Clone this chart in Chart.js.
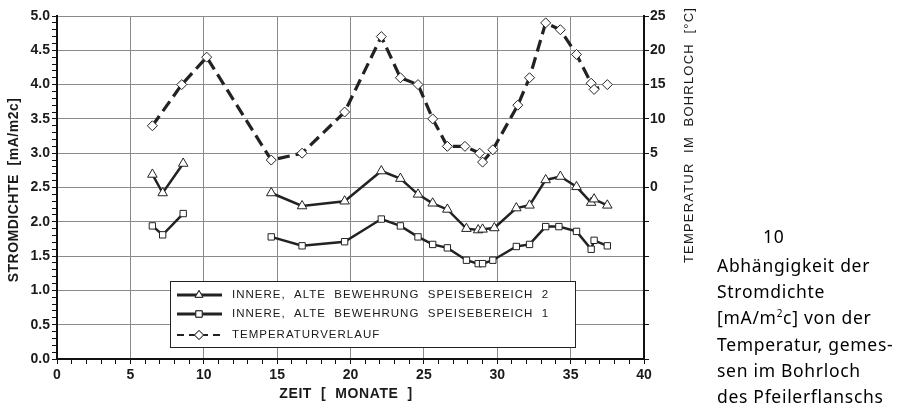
<!DOCTYPE html>
<html>
<head>
<meta charset="utf-8">
<script src="https://cdn.jsdelivr.net/npm/chart.js@4"></script>
<style>
  body { margin: 0; background: #fff; }
  #wrap { position: relative; width: 897px; height: 408px; overflow: hidden; }
  #caption { position: absolute; left: 717px; top: 223px; font-family: "Noto Sans", sans-serif;
             font-size: 17.5px; line-height: 26.3px; letter-spacing: 0.7px; color: #000; white-space: nowrap; }
  #caption .num { padding-left: 46px; margin-bottom: 2.5px; }
</style>
</head>
<body>
<div id="wrap">
  <canvas id="myChart" width="897" height="408"></canvas>
  <div id="caption">
    <div class="num">10</div>
    <div>Abhängigkeit der</div>
    <div>Stromdichte</div>
    <div>[mA/m<sup style="font-size:10px;line-height:0">2</sup>c] von der</div>
    <div>Temperatur, gemes-</div>
    <div>sen im Bohrloch</div>
    <div>des Pfeilerflanschs</div>
  </div>
</div>
<script>
// Zeit in Monaten und Messwerte
const zeitS2 = [6.5, 7.2, 8.6, 11, 14.6, 16.7, 19.6, 22.1, 23.4, 24.6, 25.6, 26.6, 27.9, 28.7, 29.0, 29.8, 31.3, 32.2, 33.3, 34.3, 35.4, 36.4, 36.6, 37.5];
const speise2 = [2.69, 2.42, 2.85, null, 2.42, 2.23, 2.30, 2.74, 2.63, 2.40, 2.27, 2.18, 1.90, 1.88, 1.89, 1.91, 2.20, 2.24, 2.61, 2.66, 2.51, 2.28, 2.33, 2.24];

const zeitS1 = [6.5, 7.2, 8.6, 11, 14.6, 16.7, 19.6, 22.1, 23.4, 24.6, 25.6, 26.6, 27.9, 28.7, 29.0, 29.7, 31.3, 32.2, 33.3, 34.2, 35.4, 36.4, 36.6, 37.5];
const speise1 = [1.94, 1.81, 2.12, null, 1.78, 1.65, 1.71, 2.04, 1.94, 1.78, 1.67, 1.62, 1.44, 1.39, 1.39, 1.44, 1.64, 1.67, 1.93, 1.93, 1.86, 1.60, 1.73, 1.65];

const zeitT = [6.5, 8.5, 10.2, 14.6, 16.7, 19.6, 22.1, 23.4, 24.6, 25.6, 26.6, 27.8, 28.8, 29.0, 29.7, 31.4, 32.2, 33.3, 34.3, 35.4, 36.4, 36.6, 37.5];
const temperatur = [9, 15, 19, 4, 5, 11, 22, 16, 15, 10, 6, 6, 5, 3.7, 5.5, 12, 16, 24, 23, 19.4, 15.2, 14.3, 15];

const legendLabels = ['INNERE,  ALTE  BEWEHRUNG  SPEISEBEREICH  2', 'INNERE,  ALTE  BEWEHRUNG  SPEISEBEREICH  1', 'TEMPERATURVERLAUF'];

function points(xs, ys) {
    return xs.map((x, i) => ({ x: x, y: ys[i] }));
}

const FONT = '"Liberation Sans", Arial, sans-serif';
const GRID = '#8a8a8a';

function rotatedText(ctx, text, x, y, font, spacing) {
    ctx.save();
    ctx.translate(x, y);
    ctx.rotate(-Math.PI / 2);
    ctx.font = font;
    ctx.letterSpacing = spacing;
    ctx.fillStyle = '#1a1a1a';
    ctx.textAlign = 'center';
    ctx.textBaseline = 'middle';
    ctx.fillText(text, 0, 0);
    ctx.restore();
}

// eigene Legende + Achsentitel
const extras = {
    id: 'extras',
    afterDraw(chart) {
        const ctx = chart.ctx;
        rotatedText(ctx, 'TEMPERATUR  IM  BOHRLOCH  [°C]', 689, 135, '13px ' + FONT, '1.2px');
        rotatedText(ctx, 'STROMDICHTE  [mA/m2c]', 14, 190, 'bold 14px ' + FONT, '0.5px');

        ctx.save();
        ctx.font = 'bold 14px ' + FONT;
        ctx.letterSpacing = '0.6px';
        ctx.fillStyle = '#1a1a1a';
        ctx.textAlign = 'center';
        ctx.textBaseline = 'middle';
        ctx.fillText('ZEIT  [  MONATE  ]', 346, 394);
        ctx.restore();

        // Legende
        ctx.save();
        ctx.fillStyle = '#fff';
        ctx.fillRect(170, 281, 405, 66);
        ctx.strokeStyle = '#222';
        ctx.lineWidth = 1;
        ctx.strokeRect(170.5, 281.5, 405, 66);
        const rows = [295, 314, 335];
        chart.data.datasets.forEach((ds, i) => {
            const y = rows[i];
            ctx.strokeStyle = '#222';
            ctx.lineWidth = i < 2 ? 3 : 2;
            ctx.setLineDash(i < 2 ? [] : [7, 5]);
            ctx.beginPath();
            ctx.moveTo(177, y);
            ctx.lineTo(222, y);
            ctx.stroke();
            ctx.setLineDash([]);
            ctx.lineWidth = 1;
            ctx.fillStyle = '#fff';
            Chart.helpers.drawPoint(ctx, { pointStyle: ds.pointStyle, radius: 4.5, borderWidth: 1 }, 199, y);
            ctx.fill();
            ctx.stroke();
            ctx.fillStyle = '#1a1a1a';
            ctx.font = '11.5px ' + FONT;
            ctx.letterSpacing = '1px';
            ctx.textBaseline = 'middle';
            ctx.fillText(legendLabels[i], 232, y);
        });
        ctx.restore();
    }
};

document.addEventListener('DOMContentLoaded', function() {
    const ctx = document.getElementById('myChart').getContext('2d');
    new Chart(ctx, {
        type: 'line',
        data: {
            datasets: [{
                label: legendLabels[0],
                data: points(zeitS2, speise2),
                yAxisID: 'y',
                borderColor: '#222',
                borderWidth: 2.5,
                pointStyle: 'triangle',
                pointRadius: 5.5,
                pointBackgroundColor: '#fff',
                pointBorderColor: '#222',
                pointBorderWidth: 1,
                spanGaps: false
            }, {
                label: legendLabels[1],
                data: points(zeitS1, speise1),
                yAxisID: 'y',
                borderColor: '#222',
                borderWidth: 2.5,
                pointStyle: 'rect',
                pointRadius: 4.5,
                pointBackgroundColor: '#fff',
                pointBorderColor: '#222',
                pointBorderWidth: 1,
                spanGaps: false
            }, {
                label: legendLabels[2],
                data: points(zeitT, temperatur),
                yAxisID: 'y2',
                borderColor: '#222',
                borderWidth: 3.2,
                borderDash: [12, 6],
                pointStyle: 'rectRot',
                pointRadius: 5,
                pointBackgroundColor: '#fff',
                pointBorderColor: '#222',
                pointBorderWidth: 1
            }]
        },
        options: {
            responsive: false,
            animation: false,
            layout: { padding: { top: 16, right: 193, left: 0, bottom: 0 } },
            plugins: { legend: { display: false }, tooltip: { enabled: false } },
            scales: {
                x: {
                    type: 'linear',
                    min: 0, max: 40,
                    afterFit: s => { s.height = 49; },
                    border: { color: '#111', width: 2 },
                    grid: {
                        color: c => (c.tick && c.tick.value % 5 === 0) ? GRID : 'transparent',
                        tickColor: '#111',
                        tickLength: 5
                    },
                    ticks: {
                        stepSize: 1, autoSkip: false, maxRotation: 0,
                        color: '#1a1a1a',
                        font: { family: FONT, size: 14, weight: 'bold' },
                        callback: v => v % 5 === 0 ? v : ''
                    }
                },
                y: {
                    position: 'left',
                    min: 0, max: 5,
                    afterFit: s => { s.width = 57; },
                    border: { color: '#111', width: 2 },
                    grid: {
                        color: c => (c.tick && Math.round(c.tick.value * 10) % 5 === 0) ? GRID : 'transparent',
                        tickColor: '#111',
                        tickLength: 5
                    },
                    ticks: {
                        stepSize: 0.1, autoSkip: false,
                        color: '#1a1a1a',
                        padding: 2,
                        font: { family: FONT, size: 14, weight: 'bold' },
                        callback: v => Math.round(v * 10) % 5 === 0 ? v.toFixed(1) : ''
                    }
                },
                y2: {
                    position: 'right',
                    min: -25, max: 25,
                    afterFit: s => { s.width = 60; },
                    border: { color: '#111', width: 2 },
                    grid: { drawOnChartArea: false, tickColor: '#111', tickLength: 5 },
                    ticks: {
                        stepSize: 5, autoSkip: false,
                        color: '#1a1a1a',
                        padding: 1,
                        font: { family: FONT, size: 14, weight: 'bold' },
                        callback: v => v >= 0 ? v : ''
                    }
                }
            }
        },
        plugins: [extras]
    });
});
</script>
</body>
</html>
